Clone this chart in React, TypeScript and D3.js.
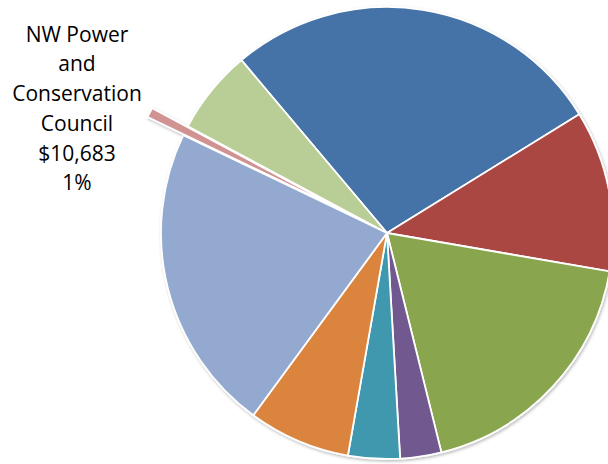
import React from "react";
import * as d3 from "d3";

const categories = [
  "Slice A",
  "Slice B",
  "Slice C",
  "Slice D",
  "Slice E",
  "Slice F",
  "Slice G",
  "NW Power and Conservation Council",
  "Slice I",
];
const values = [417100, 175900, 281000, 44900, 56400, 111500, 336600, 10683, 92000];
const colors = [
  "#4572A7",
  "#AA4643",
  "#89A54E",
  "#71588F",
  "#4198AF",
  "#DB843D",
  "#93A9CF",
  "#D19392",
  "#B9CD96",
];
const explodedIndex = 7;
const labelLines = ["NW Power", "and", "Conservation", "Council"];

const W = 608;
const H = 464;
const cx = 387;
const cy = 233;
const R = 226;
const startDeg = 319.9;
const explodeOffset = 40;

export default function App() {
  const data = categories.map((c, i) => ({ c, v: values[i], i }));
  const total = d3.sum(values);
  const pie = d3
    .pie<any>()
    .sort(null)
    .value((d) => d.v)
    .startAngle((startDeg * Math.PI) / 180)
    .endAngle((startDeg * Math.PI) / 180 + 2 * Math.PI);
  const arcs = pie(data);
  const arc = d3.arc<any>().innerRadius(0).outerRadius(R);

  const ex = arcs[explodedIndex];
  const pct = Math.round((ex.data.v / total) * 100);
  const lines = [...labelLines, "$" + d3.format(",")(ex.data.v), pct + "%"];

  return (
    <svg
      width={W}
      height={H}
      style={{ position: "absolute", left: 0, top: 0, background: "#fff" }}
    >
      <defs>
        <filter id="sh" x="-20%" y="-20%" width="140%" height="140%">
          <feDropShadow dx="1" dy="1.5" stdDeviation="1.8" floodColor="#000" floodOpacity="0.28" />
        </filter>
      </defs>
      <g transform={`translate(${cx},${cy})`} filter="url(#sh)">
        {arcs.map((a, i) => {
          let tx = 0;
          let ty = 0;
          if (i === explodedIndex) {
            const mid = (a.startAngle + a.endAngle) / 2;
            tx = Math.sin(mid) * explodeOffset;
            ty = -Math.cos(mid) * explodeOffset;
          }
          return (
            <path
              key={i}
              d={arc(a) as string}
              transform={`translate(${tx},${ty})`}
              fill={colors[i]}
              stroke="#fff"
              strokeWidth={1.8}
              strokeLinejoin="round"
            />
          );
        })}
      </g>
      <g
        fontFamily="'Open Sans', sans-serif"
        fontSize={21}
        fill="#000"
        textAnchor="middle"
      >
        {lines.map((t, k) => (
          <text key={k} x={77} y={41.7 + k * 29.7}>
            {t}
          </text>
        ))}
      </g>
    </svg>
  );
}
